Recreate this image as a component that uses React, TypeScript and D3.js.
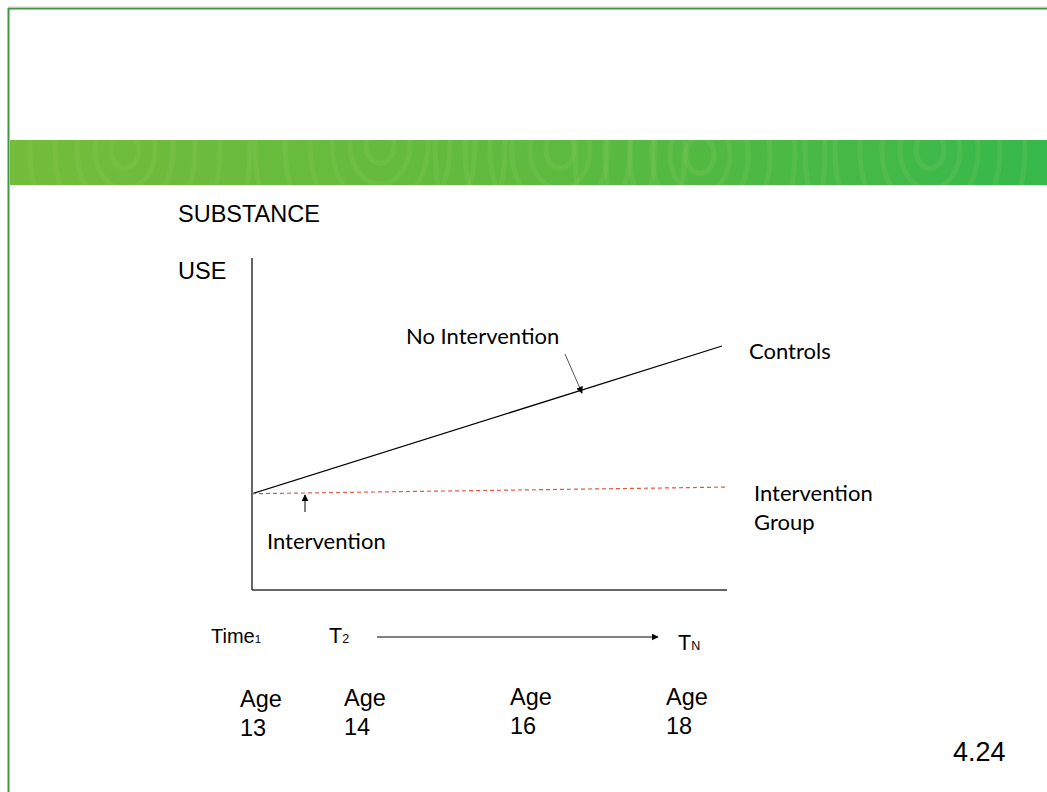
import React from "react";
import * as d3 from "d3";

// ---- data ----
const timePoints = [0, 1]; // start, end of study
const controlsValues = [2.9, 7.35];
const interventionValues = [2.9, 3.1];
const ageValues = [13, 14, 16, 18];
const ageLabels = ["13", "14", "16", "18"];
const yAxisLabel = ["SUBSTANCE", "USE"];
const seriesLabels = { controls: "Controls", intervention: ["Intervention", "Group"] };
const slideNumber = "4.24";

const W = 1047;
const H = 792;

export default function App() {
  const x = d3.scaleLinear().domain([0, 1]).range([252, 722]);
  const xI = d3.scaleLinear().domain([0, 1]).range([252, 727]);
  const y = d3.scaleLinear().domain([0, 10]).range([590, 258]);
  const ageX = d3.scaleLinear().domain([13, 14, 16, 18]).range([240, 344, 510, 666]);

  const lineC = d3.line<number>().x((_, i) => x(timePoints[i])).y((d) => y(d));
  const lineI = d3.line<number>().x((_, i) => xI(timePoints[i])).y((d) => y(d));

  const calibri = "Lato, 'Open Sans', sans-serif";
  const arial = "'Liberation Sans', Arial, sans-serif";

  // band texture arcs (wood-grain like)
  const arcs: { cx: number; cy: number; rx: number; ry: number }[] = [];
  [
    { cx: 125, cy: 150 },
    { cx: 380, cy: 145 },
    { cx: 560, cy: 150 },
    { cx: 700, cy: 155 },
    { cx: 930, cy: 150 },
  ].forEach((c) => {
    [14, 30, 48, 70, 95, 125].forEach((r) => arcs.push({ cx: c.cx, cy: c.cy, rx: r, ry: r * 1.3 }));
  });

  return (
    <svg width={W} height={H} style={{ position: "absolute", left: 0, top: 0, background: "#fff" }}>
      <defs>
        <linearGradient id="band" x1="0" x2="1" y1="0" y2="0">
          <stop offset="0" stopColor="#74bc3b" />
          <stop offset="0.5" stopColor="#5fba3e" />
          <stop offset="1" stopColor="#36b84c" />
        </linearGradient>
        <linearGradient id="dash" x1="252" x2="727" y1="0" y2="0" gradientUnits="userSpaceOnUse">
          <stop offset="0" stopColor="#777" />
          <stop offset="0.15" stopColor="#e06050" />
          <stop offset="1" stopColor="#f04e3a" />
        </linearGradient>
        <clipPath id="bandClip">
          <rect x={10} y={140} width={W - 10} height={45} />
        </clipPath>
        <marker id="arrow" viewBox="0 0 10 10" refX="9" refY="5" markerWidth="7" markerHeight="7" orient="auto-start-reverse" markerUnits="userSpaceOnUse">
          <path d="M0,0 L10,5 L0,10 z" fill="#000" />
        </marker>
      </defs>

      {/* slide frame */}
      <line x1={8} x2={W} y1={8.5} y2={8.5} stroke="#3e9a42" strokeWidth={2} />
      <line x1={8} x2={W} y1={7} y2={7} stroke="#ccc" strokeWidth={1} />
      <line x1={8.5} x2={8.5} y1={8} y2={H} stroke="#3e9a42" strokeWidth={2} />

      {/* green band */}
      <rect x={10} y={140} width={W - 10} height={45} fill="url(#band)" />
      <g clipPath="url(#bandClip)">
        {arcs.map((a, i) => (
          <ellipse key={i} cx={a.cx} cy={a.cy} rx={a.rx} ry={a.ry} fill="none" stroke="#9ad46a" strokeOpacity={0.16} strokeWidth={5} />
        ))}
      </g>

      {/* axes */}
      <line x1={x(0)} x2={x(0)} y1={y(10)} y2={y(0)} stroke="#333" strokeWidth={1.5} />
      <line x1={x(0)} x2={xI(1)} y1={y(0)} y2={y(0)} stroke="#333" strokeWidth={1.5} />

      {/* lines */}
      <path d={lineC(controlsValues) || ""} fill="none" stroke="#000" strokeWidth={1.2} />
      <path d={lineI(interventionValues) || ""} fill="none" stroke="url(#dash)" strokeWidth={1.2} strokeDasharray="4 3" />

      {/* axis label */}
      <text x={178} y={222} fontFamily={arial} fontSize={23.5} fill="#000">{yAxisLabel[0]}</text>
      <text x={178} y={279} fontFamily={arial} fontSize={23.5} fill="#000">{yAxisLabel[1]}</text>

      {/* annotations */}
      <text x={406} y={344} fontFamily={calibri} fontSize={22} fill="#000">No Intervention</text>
      <line x1={565} y1={354} x2={582} y2={393} stroke="#555" strokeWidth={1} markerEnd="url(#arrow)" />
      <text x={749} y={359} fontFamily={calibri} fontSize={22} fill="#000">{seriesLabels.controls}</text>
      <text x={754} y={501} fontFamily={calibri} fontSize={22} fill="#000">{seriesLabels.intervention[0]}</text>
      <text x={754} y={530} fontFamily={calibri} fontSize={22} fill="#000">{seriesLabels.intervention[1]}</text>
      <line x1={305} y1={512} x2={305} y2={495} stroke="#000" strokeWidth={1} markerEnd="url(#arrow)" />
      <text x={267} y={549} fontFamily={calibri} fontSize={22} fill="#000">Intervention</text>

      {/* time row */}
      <text x={211} y={643} fontFamily={arial} fontSize={20} fill="#000">
        Time<tspan fontSize={11.5}>1</tspan>
      </text>
      <text x={329} y={643} fontFamily={arial} fontSize={21.5} fill="#000">
        T<tspan fontSize={12.5}>2</tspan>
      </text>
      <line x1={377} y1={637} x2={658} y2={637} stroke="#000" strokeWidth={1} markerEnd="url(#arrow)" />
      <text x={678} y={650} fontFamily={arial} fontSize={21.5} fill="#000">
        T<tspan fontSize={12.5}>N</tspan>
      </text>

      {/* ages */}
      {ageValues.map((a, i) => (
        <g key={a}>
          <text x={ageX(a)} y={707 - i * 0.8} fontFamily={arial} fontSize={23.5} fill="#000">Age</text>
          <text x={ageX(a)} y={736 - i * 0.8} fontFamily={arial} fontSize={23.5} fill="#000">{ageLabels[i]}</text>
        </g>
      ))}

      <text x={953} y={761} fontFamily={arial} fontSize={27} fill="#000">{slideNumber}</text>
    </svg>
  );
}
